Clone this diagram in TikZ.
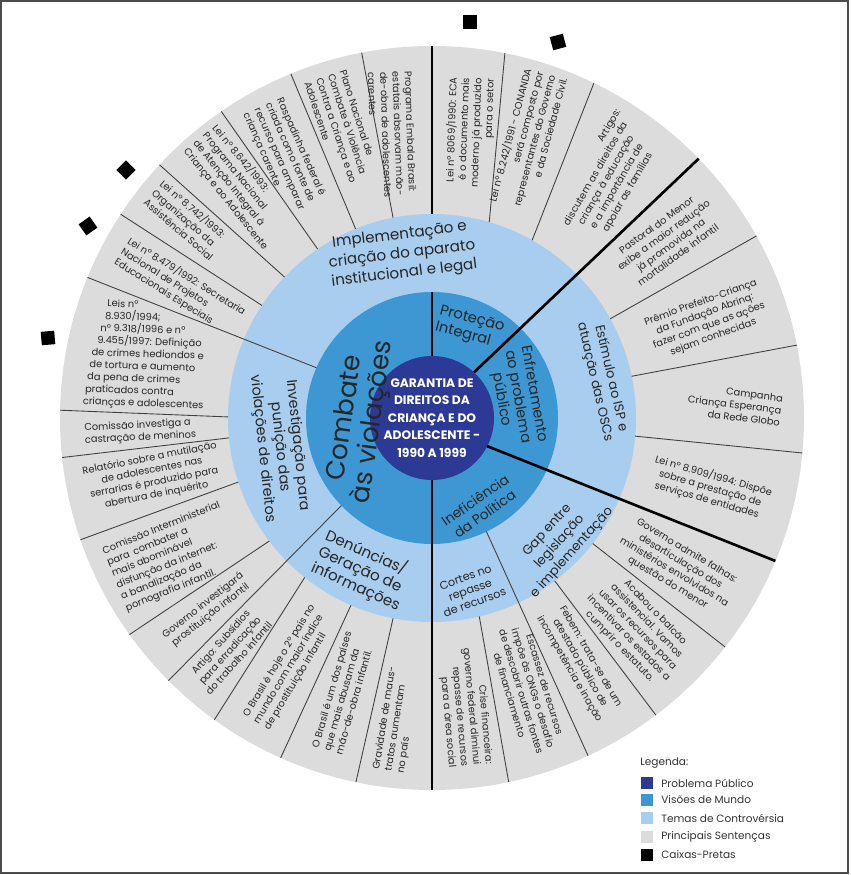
\documentclass[tikz,border=0pt]{standalone}
\usepackage{fontspec}
\setmainfont{Poppins}
\definecolor{problema}{HTML}{2C3A95}
\definecolor{visao}{HTML}{3C97D3}
\definecolor{tema}{HTML}{A9CDEE}
\definecolor{sentenca}{HTML}{DCDCDC}
\newcommand\anel[2]{% raio, cor
  \fill[#2] (0,0) circle (#1);
}

\begin{document}
\begin{tikzpicture}[x=0.02cm,y=0.02cm,
		sep/.style={draw=black!75,line width=0.5pt},
		grossa/.style={draw=black,line width=1.5pt},
		sent/.style={inner sep=0,align=center,text=black!85,font=\fontsize{5.6}{7}\selectfont},
		visaotxt/.style={inner sep=0,align=center,text=black!85,font=\fontsize{8.4}{9.6}\selectfont},
		tematxt/.style={inner sep=0,align=center,text=black!85,font=\fontsize{8.6}{11}\selectfont},
		preta/.style={fill=black,minimum size=0.27cm,inner sep=0},
		legq/.style={minimum size=0.24cm,inner sep=0}]

		\useasboundingbox (-432,-457) rectangle (418,418);
		\draw[black!70,line width=0.6pt] (-431,-455) rectangle (416,417);

		\anel{372}{sentenca}
		\anel{204}{tema}
		\anel{126}{visao}
		\anel{62}{problema}

		% separadores das sentencas
		\foreach \a/\b in {73.7/78.7,60.6/64.2,29.1/29.3,11.8/11.3,-5.1/-5.4,-38/-38,-53/-53,-76.6/-78.1,
				259/258.2,246.6/246,231.4/234.2,217.1/215.6,198.3/199.1,185.6/186.1,179.7/178.8,
				146.5/146.8,136.3/137.1,124.1/124.5,112/112.3,101/100.9}
			\draw[sep] (\a:204) -- (\b:372);
		\foreach \a/\b in {-64.4/-65.2,224/224.9,156.5/157.8}
			\draw[sep] (\a:126) -- (\b:372);

		\draw[grossa] (90:62) -- (90:126);
		\draw[grossa] (90:204) -- (90:372);
		\draw[grossa] (47.4:62) -- (44.2:372);
		\draw[grossa] (-27:62) -- (-22.6:372);
		\draw[grossa] (-90:62) -- (-90:372);

		\node[align=center,text=white,inner sep=0,font=\bfseries\fontsize{7}{10}\selectfont] (centro) at (0,0)
			{GARANTIA DE\\ DIREITOS DA\\ CRIANÇA E DO\\ ADOLESCENTE -\\ 1990 A 1999};

		\node[visaotxt,align=left,rotate=-15] (protecao) at (67.3:98) {Proteção\\ Integral};
		\node[visaotxt,rotate=-80,font=\fontsize{8.2}{9.4}\selectfont] (enfrent) at (13.9:88) {Enfretamento\\ ao problema\\ público};
		\node[visaotxt,rotate=35,font=\fontsize{7.8}{9.4}\selectfont] (inef) at (-61.7:101) {Ineficiência\\ da Política};
		\node[visaotxt,rotate=82,font=\fontsize{15}{16}\selectfont] (combate) at (181.6:72) {Combate\\ às violações};

		\node[tematxt,rotate=7] (implem) at (100.4:166) {Implementação e\\ criação do aparato\\ institucional e legal};
		\node[tematxt,rotate=-77,font=\fontsize{7.4}{9.4}\selectfont] (estimulo) at (12.5:175) {Estímulo ao ISP e\\ atuação das OSCs};
		\node[tematxt,rotate=48,font=\fontsize{7.4}{9.4}\selectfont] (gap) at (-44.1:178) {Gap entre\\ legislação\\ e implementação};
		\node[tematxt,rotate=20,font=\fontsize{6.4}{7.6}\selectfont] (cortes) at (-77.5:176) {Cortes no\\ repasse\\ de recursos};
		\node[tematxt,align=left,rotate=-24,font=\fontsize{8.6}{10}\selectfont] (denuncias) at (245.6:167) {Denúncias/\\ Geração de\\ informações};
		\node[tematxt,rotate=-84,font=\fontsize{8.2}{10}\selectfont] (investig) at (190.8:155) {Investigação para\\ punição das\\ violações de direitos};

		\node[sent,align=right,rotate=88] (s1) at (82.4:288) {Lei nº 8069/1990: ECA\\ é o documento mais\\ moderno já produzido\\ para o setor};
		\node[sent,align=right,rotate=75] (s2) at (71.1:294) {Lei nº 8.242/1991 - CONANDA\\ será composto por\\ representantes do Governo\\ e da Sociedade Civil.};
		\node[sent,text width=76pt,rotate=60] (s3) at (53.7:295) {\hfill Artigos:\\ discutem as direitos da\\ criança à educação\\ e a importância de\\ apoiar as famílias};
		\node[sent,rotate=36] (s4) at (37.1:295) {Pastoral do Menor\\ exibe a maior redução\\ já promovida na\\ mortalidade infantil};
		\node[sent,rotate=20] (s5) at (19.6:292) {Prêmio Prefeito-Criança\\ da Fundação Abrinq:\\ fazer com que as ações\\ sejam conhecidas};
		\node[sent,align=right,rotate=-7] (s6) at (2.5:303) {Campanha\\ Criança Esperança\\ da Rede Globo};
		\node[sent,rotate=-16] (s7) at (-14.1:287) {Lei nº 8.909/1994: Dispõe\\ sobre a prestação de\\ serviços de entidades};
		\node[sent,rotate=-31] (s8) at (-31.3:287) {Governo admite falhas:\\ desarticulação dos\\ ministérios envolvidos na\\ questão do menor};
		\node[sent,rotate=-46] (s9) at (-45.9:295) {Acabou o balcão\\ assistencial. Vamos\\ usar os recursos para\\ incentivar os estados a\\ cumprir o estatuto.};
		\node[sent,rotate=-60] (s10) at (-58.9:286) {Febem: trata-se de um\\ atestado público de\\ incompetência e inação};
		\node[sent,rotate=-73] (s11) at (-70.7:288) {Escassez de recursos\\ impõe às ONGs o desafio\\ de descobrir outras fontes\\ de financiamento};
		\node[sent,align=right,rotate=-85] (s12) at (-83.5:291) {Crise financeira:\\ governo federal diminui\\ repasse de recursos\\ para a área social};
		\node[sent,align=left,rotate=81] (s13) at (263.4:304) {Gravidade de maus-\\ tratos aumentam\\ no país};
		\node[sent,align=left,rotate=74] (s14) at (252.1:289) {O Brasil é um dos países\\ que mais abusam da\\ mão-de-obra infantil.};
		\node[sent,align=left,rotate=59] (s15) at (240.3:287) {O Brasil é hoje o 2º país no\\ mundo com maior índice\\ de prostituição infantil};
		\node[sent,rotate=48] (s16) at (228.9:308) {Artigo: Subsídios\\ para erradicação\\ do trabalho infantil};
		\node[sent,rotate=38] (s17) at (220.5:296) {Governo investigará\\ prostituição infantil};
		\node[sent,align=left,rotate=22] (s18) at (208.2:294) {Comissão Interministerial\\ para\, combater a\\ mais abominável\\ disfunção da internet:\\ a banalização da\\ pornografia infantil.};
		\node[sent,rotate=11] (s19) at (191.9:285) {Relatório sobre a mutilação\\ de adolescentes nas\\ serrarias é produzido para\\ abertura de inquérito};
		\node[sent,align=left,rotate=3] (s20) at (182.7:292) {Comissão investiga a\\ castração de meninos};
		\node[sent,align=left,rotate=-2] (s21) at (167.6:294) {\hspace*{12pt}Leis nº\\ \hspace*{11pt}8.930/1994;\\ \hspace*{8.5pt}nº 9.318/1996 e nº\\ \hspace*{7pt}9.455/1997: Definição\\ \hspace*{4pt}de crimes hediondos e\\ \hspace*{3pt}de tortura e aumento\\ \hspace*{2pt}da pena de crimes\\ \hspace*{1pt}praticados contra\\ crianças e adolescentes};
		\node[sent,align=left,rotate=-32] (s22) at (152.5:284) {Lei nº 8.479/1992: Secretaria\\ Nacional de Projetos\\ Educacionais Especiais};
		\node[sent,align=left,rotate=-41] (s23) at (141:315) {Lei nº 8.742/1993:\\ Organização da\\ Assistência Social};
		\node[sent,align=left,rotate=-51] (s24) at (129.7:300) {Lei nº 8.642/1993:\\ Programa Nacional\\ de Atenção Integral à\\ Criança e ao Adolescente};
		\node[sent,align=left,rotate=-66] (s25) at (119.4:300) {Raspadinha federal é\\ criada como fonte de\\ recurso para amparar\\ criança carente};
		\node[sent,align=left,rotate=-72] (s26) at (107.2:303) {Plano Nacional de\\ Combate à Violência\\ Contra a Criança e ao\\ Adolescente};
		\node[sent,align=left,rotate=-88] (s27) at (98:286) {Programa Embala Brasil:\\ estatais absorvam mão-\\ de-obra de adolescentes\\ carentes};

		% caixas-pretas
		\node[preta] (cp1) at (38,396) {};
		\node[preta,rotate=15] (cp2) at (126,376) {};
		\node[preta,rotate=45] (cp3) at (-306,248) {};
		\node[preta,rotate=35] (cp4) at (-344,192) {};
		\node[preta,rotate=5] (cp5) at (-384,80) {};

		% legenda
		\node[anchor=west,inner sep=0,text=black!80,font=\fontsize{6}{7}\selectfont] (leg) at (208,-345) {Legenda:};
		\foreach \y/\cor/\txt [count=\i] in {-365/problema/Problema Público,-382/visao/Visões de Mundo,
				-400/tema/Temas de Controvérsia,-419/sentenca/Principais Sentenças,-437/black/Caixas-Pretas}{
			\node[legq,fill=\cor] (lq\i) at (215,\y) {};
			\node[anchor=west,inner sep=0,text=black!80,font=\fontsize{6}{7}\selectfont] (lt\i) at (229,\y) {\txt};
		}
	\end{tikzpicture}
\end{document}
